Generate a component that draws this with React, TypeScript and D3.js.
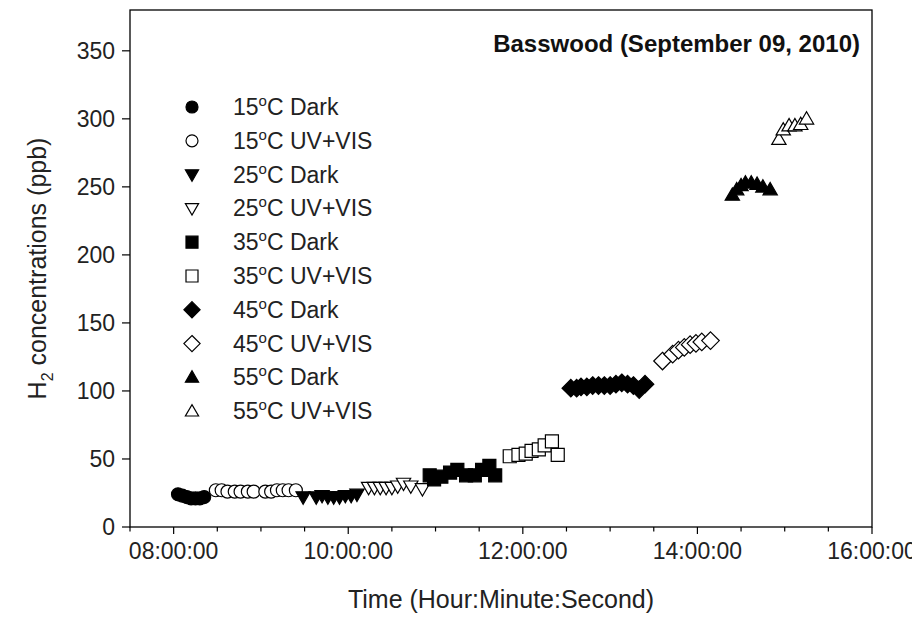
import React from 'react';
import * as d3 from 'd3';

const W = 912;
const H = 622;
const M = { left: 130, right: 872, top: 10, bottom: 527 };

// Series data (time of day, H2 ppb)
const t15Dark = ['08:03', '08:06', '08:09', '08:12', '08:15', '08:18', '08:21'];
const v15Dark = [24, 23, 22, 21, 21, 21, 22];
const t15UV = ['08:29', '08:33', '08:37', '08:42', '08:46', '08:51', '08:55', '09:03', '09:07', '09:11', '09:15', '09:19', '09:24'];
const v15UV = [27, 27, 26, 26, 26, 26, 26, 26, 26, 27, 27, 27, 27];
const t25Dark = ['09:29', '09:38', '09:42', '09:46', '09:50', '09:54', '09:58', '10:02', '10:06'];
const v25Dark = [22, 22, 23, 22, 22, 22, 23, 23, 24];
const t25UV = ['10:14', '10:18', '10:22', '10:26', '10:30', '10:34', '10:38', '10:43', '10:51'];
const v25UV = [29, 29, 29, 29, 29, 30, 32, 30, 28];
const t35Dark = ['10:56', '10:59', '11:04', '11:10', '11:15', '11:21', '11:27', '11:32', '11:37', '11:41'];
const v35Dark = [38, 35, 37, 40, 42, 38, 38, 42, 45, 38];
const t35UV = ['11:51', '11:57', '12:02', '12:06', '12:11', '12:15', '12:20', '12:24'];
const v35UV = [52, 53, 54, 56, 57, 60, 63, 53];
const t45Dark = ['12:33', '12:37', '12:40', '12:44', '12:48', '12:52', '12:56', '13:00', '13:04', '13:08', '13:12', '13:16', '13:20', '13:24'];
const v45Dark = [102, 102, 103, 103, 104, 104, 104, 104, 105, 106, 105, 104, 101, 105];
const t45UV = ['13:36', '13:43', '13:47', '13:51', '13:55', '13:59', '14:03', '14:09'];
const v45UV = [122, 127, 130, 132, 134, 135, 136, 137];
const t55Dark = ['14:24', '14:27', '14:30', '14:33', '14:37', '14:41', '14:45', '14:50'];
const v55Dark = [244, 248, 251, 253, 253, 252, 250, 248];
const t55UV = ['14:56', '14:59', '15:03', '15:07', '15:11', '15:15'];
const v55UV = [285, 292, 295, 295, 296, 300];

const yTicks = [0, 50, 100, 150, 200, 250, 300, 350];
const xMajor = ['08:00', '10:00', '12:00', '14:00', '16:00'];

type Shape = 'circle' | 'tdown' | 'square' | 'diamond' | 'tup';

const series: { temp: string; mode: string; shape: Shape; filled: boolean; t: string[]; v: number[] }[] = [
  { temp: '15', mode: 'Dark', shape: 'circle', filled: true, t: t15Dark, v: v15Dark },
  { temp: '15', mode: 'UV+VIS', shape: 'circle', filled: false, t: t15UV, v: v15UV },
  { temp: '25', mode: 'Dark', shape: 'tdown', filled: true, t: t25Dark, v: v25Dark },
  { temp: '25', mode: 'UV+VIS', shape: 'tdown', filled: false, t: t25UV, v: v25UV },
  { temp: '35', mode: 'Dark', shape: 'square', filled: true, t: t35Dark, v: v35Dark },
  { temp: '35', mode: 'UV+VIS', shape: 'square', filled: false, t: t35UV, v: v35UV },
  { temp: '45', mode: 'Dark', shape: 'diamond', filled: true, t: t45Dark, v: v45Dark },
  { temp: '45', mode: 'UV+VIS', shape: 'diamond', filled: false, t: t45UV, v: v45UV },
  { temp: '55', mode: 'Dark', shape: 'tup', filled: true, t: t55Dark, v: v55Dark },
  { temp: '55', mode: 'UV+VIS', shape: 'tup', filled: false, t: t55UV, v: v55UV },
];

const parse = d3.timeParse('%H:%M');
const FONT = '"Liberation Sans", Arial, sans-serif';

// marker path centred on 0,0
function markerPath(shape: Shape, s = 6.5): string {
  switch (shape) {
    case 'circle':
      return `M${s},0A${s},${s} 0 1,1 ${-s},0A${s},${s} 0 1,1 ${s},0Z`;
    case 'square':
      return `M${-s},${-s}H${s}V${s}H${-s}Z`;
    case 'diamond': {
      const d = s * 1.35;
      return `M0,${-d}L${d},0L0,${d}L${-d},0Z`;
    }
    case 'tdown':
      return `M${-s * 1.1},${-s * 0.8}H${s * 1.1}L0,${s * 1.1}Z`;
    case 'tup':
      return `M${-s * 1.1},${s * 0.8}H${s * 1.1}L0,${-s * 1.1}Z`;
  }
}

const App: React.FC = () => {
  const x = d3
    .scaleTime()
    .domain([parse('07:30')!, parse('16:00')!])
    .range([M.left, M.right]);
  const y = d3.scaleLinear().domain([0, 380]).range([M.bottom, M.top]);

  const minorTicks = x.ticks(d3.timeMinute.every(30)!);

  return (
    <svg width={W} height={H} style={{ position: 'absolute', left: 0, top: 0, background: '#fff' }} fontFamily={FONT}>
      {/* frame */}
      <rect x={M.left} y={M.top} width={M.right - M.left} height={M.bottom - M.top} fill="none" stroke="#000" strokeWidth={1.3} />

      {/* x ticks */}
      {minorTicks.map((d, i) => {
        const major = d.getMinutes() === 0 && d.getHours() % 2 === 0;
        return (
          <line key={i} x1={x(d)} x2={x(d)} y1={M.bottom} y2={M.bottom + (major ? 7 : 4.5)} stroke="#000" strokeWidth={1.2} />
        );
      })}
      {xMajor.map((s) => (
        <text key={s} x={x(parse(s)!)} y={M.bottom + 32} textAnchor="middle" fontSize={23} fill="#222">
          {s}:00
        </text>
      ))}

      {/* y ticks */}
      {yTicks.map((v) => (
        <g key={v}>
          <line x1={M.left - 8} x2={M.left} y1={y(v)} y2={y(v)} stroke="#000" strokeWidth={1.2} />
          <text x={M.left - 15} y={y(v) + 8} textAnchor="end" fontSize={23} fill="#222">
            {v}
          </text>
        </g>
      ))}

      {/* axis titles */}
      <text x={(M.left + M.right) / 2} y={H - 14} textAnchor="middle" fontSize={25} fill="#222">
        Time (Hour:Minute:Second)
      </text>
      <text transform={`translate(46,${(M.top + M.bottom) / 2}) rotate(-90)`} textAnchor="middle" fontSize={25} fill="#222">
        H<tspan fontSize={16} dy={7}>2</tspan>
        <tspan dy={-7}> concentrations (ppb)</tspan>
      </text>

      {/* title */}
      <text x={M.right - 12} y={52} textAnchor="end" fontSize={24} fontWeight="bold" fill="#111">
        Basswood (September 09, 2010)
      </text>

      {/* data */}
      {series.map((s, si) => (
        <g key={si}>
          {s.t.map((t, i) => (
            <path
              key={i}
              d={markerPath(s.shape)}
              transform={`translate(${x(parse(t)!)},${y(s.v[i])})`}
              fill={s.filled ? '#000' : '#fff'}
              stroke="#000"
              strokeWidth={1.2}
            />
          ))}
        </g>
      ))}

      {/* legend */}
      {series.map((s, i) => {
        const ly = 107 + i * 33.8;
        return (
          <g key={i}>
            <path d={markerPath(s.shape, 6)} transform={`translate(192,${ly})`} fill={s.filled ? '#000' : '#fff'} stroke="#000" strokeWidth={1.2} />
            <text x={233} y={ly + 8} fontSize={23} fill="#222">
              {s.temp}
              <tspan fontSize={15} dy={-9}>o</tspan>
              <tspan dy={9}>C {s.mode}</tspan>
            </text>
          </g>
        );
      })}
    </svg>
  );
};

export default App;
